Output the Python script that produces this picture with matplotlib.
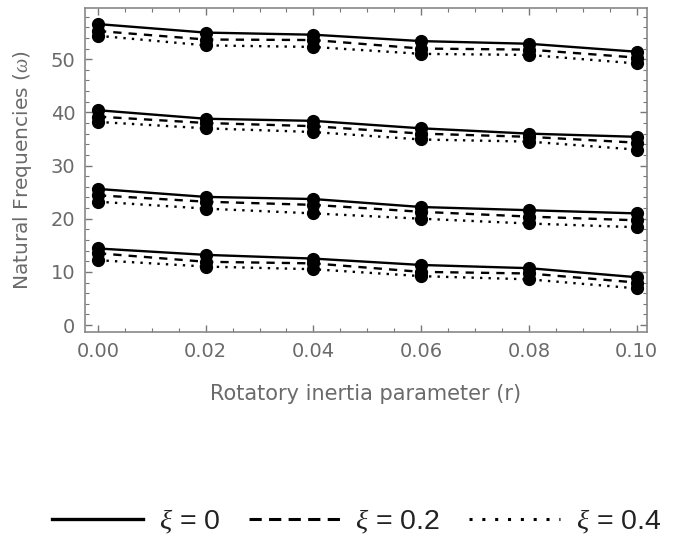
import matplotlib
matplotlib.use("Agg")
import matplotlib.pyplot as plt
from matplotlib.lines import Line2D
from matplotlib.ticker import MultipleLocator

plt.rcParams['font.family'] = ['DejaVu Sans']
plt.rcParams['mathtext.fontset'] = 'custom'
plt.rcParams['mathtext.it'] = 'Liberation Serif:italic'
plt.rcParams['mathtext.rm'] = 'DejaVu Sans'

r = [0.00, 0.02, 0.04, 0.06, 0.08, 0.10]

# xi = 0 (solid)
m1_xi0 = [14.4, 13.2, 12.5, 11.3, 10.7, 9.0]
m2_xi0 = [25.6, 24.1, 23.7, 22.2, 21.6, 21.0]
m3_xi0 = [40.4, 38.8, 38.4, 37.0, 36.0, 35.4]
m4_xi0 = [56.6, 55.0, 54.6, 53.4, 52.9, 51.4]
# xi = 0.2 (dashed)
m1_xi2 = [13.5, 11.9, 11.6, 10.0, 9.7, 8.0]
m2_xi2 = [24.4, 23.2, 22.6, 21.3, 20.4, 19.7]
m3_xi2 = [39.2, 38.0, 37.4, 36.0, 35.4, 34.3]
m4_xi2 = [55.3, 53.7, 53.6, 52.0, 51.8, 50.3]
# xi = 0.4 (dotted)
m1_xi4 = [12.2, 11.0, 10.5, 9.2, 8.6, 6.9]
m2_xi4 = [23.2, 21.9, 21.0, 20.0, 19.1, 18.4]
m3_xi4 = [38.2, 37.0, 36.3, 34.9, 34.5, 33.0]
m4_xi4 = [54.4, 52.6, 52.3, 51.0, 50.8, 49.2]

labels = [r"$\xi$ = 0", r"$\xi$ = 0.2", r"$\xi$ = 0.4"]
styles = ["-", (0, (3.5, 3)), (0, (1, 2.6))]
leg_styles = ["-", (0, (4, 2.4)), (0, (1, 3.2))]
groups = [
    [m1_xi0, m2_xi0, m3_xi0, m4_xi0],
    [m1_xi2, m2_xi2, m3_xi2, m4_xi2],
    [m1_xi4, m2_xi4, m3_xi4, m4_xi4],
]

fig = plt.figure(figsize=(6.83, 5.42), dpi=100)
ax = fig.add_axes([0.1245, 0.3875, 0.8225, 0.5975])

for series, ls in zip(groups, styles):
    for ys in series:
        ax.plot(r, ys, linestyle=ls, color="black", lw=1.7,
                marker="o", markersize=8.5, markerfacecolor="black",
                markeredgecolor="black")

ax.set_xlim(-0.0024, 0.1019)
ax.set_ylim(-1.3, 59.6)
ax.xaxis.set_major_locator(MultipleLocator(0.02))
ax.xaxis.set_minor_locator(MultipleLocator(0.005))
ax.yaxis.set_major_locator(MultipleLocator(10))
ax.yaxis.set_minor_locator(MultipleLocator(2))
ax.set_xticks(r)
ax.set_xticklabels([f"{v:.2f}" for v in r])

tc = "#6a6a6a"
ax.tick_params(which="both", direction="in", top=True, right=True,
               colors="#777777", labelcolor=tc, labelsize=14)
ax.tick_params(which="major", length=5, width=1)
ax.tick_params(which="minor", length=3, width=0.8)
ax.tick_params(axis="x", which="major", pad=7)
ax.tick_params(axis="y", which="major", pad=7)
for s in ax.spines.values():
    s.set_color("#888888")
    s.set_linewidth(1.2)

ax.set_xlabel("Rotatory inertia parameter (r)", color=tc, fontsize=15, labelpad=17)
ax.set_ylabel(r"Natural Frequencies ($\omega$)", color=tc, fontsize=14.5, labelpad=12)

handles = [Line2D([0], [0], color="black", lw=2.4 if ls == "-" else 2.2, linestyle=ls)
           for ls in leg_styles]
fig.legend(handles, labels, loc="center", bbox_to_anchor=(0.522, 0.037), ncol=3,
           frameon=False, handlelength=3.2, columnspacing=1.0,
           handletextpad=0.55, labelcolor="#222222",
           prop={'family': ['Liberation Sans Narrow', 'Liberation Sans'], 'size': 20.5})

fig.savefig("out.png", dpi=100)
